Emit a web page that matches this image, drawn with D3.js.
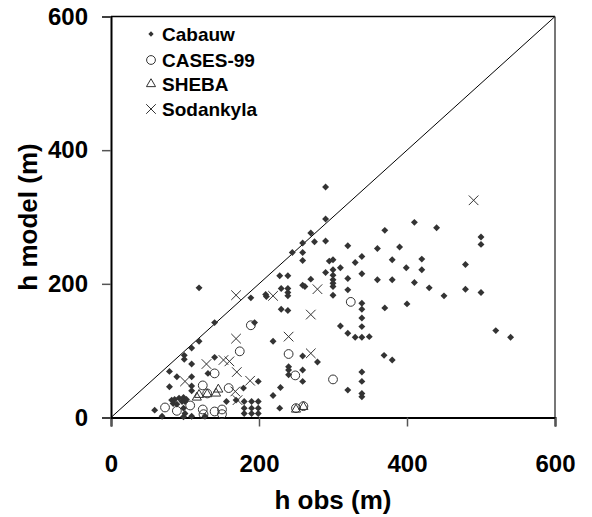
<!DOCTYPE html>
<html>
<head>
<meta charset="utf-8">
<script src="https://cdn.jsdelivr.net/npm/d3@7"></script>
<style>
  body{margin:0;background:#fff;}
  text{font-family:"Liberation Sans",Arial,sans-serif;font-weight:bold;fill:#000;}
</style>
</head>
<body>
<div id="chart"></div>
<script>

// values: [h obs, h model]
var cabauw = [
  [290,345],[290,297],[270,276],[259,261],[245,247],[275,263],[290,264],[259,247],[259,235],
  [320,257],[370,280],[410,292],[440,284],[360,253],[390,255],[339,241],[295,234],[300,236],
  [330,232],[380,236],[420,237],[399,224],[420,221],[479,229],[500,270],[500,259],[310,224],
  [290,217],[300,221],[300,213],[300,206],[300,201],[300,196],[339,215],[270,207],[320,208],
  [360,206],[380,206],[259,198],[262,196],[410,202],[430,194],[450,182],[479,192],[500,187],
  [320,191],[300,183],[370,164],[400,170],[339,171],[339,162],[339,149],[339,136],[339,120],
  [330,120],[349,121],[320,126],[310,137],[520,130],[540,120],
  [228,212],[239,212],[230,193],[239,193],[239,187],[239,182],[119,194],[189,179],[209,184],
  [210,181],[230,162],[239,160],[140,142],[194,142],[119,114],[109,104],[219,114],[99,93],
  [99,87],[109,80],[140,90],[240,76],[240,71],[240,64],[79,69],[89,61],[109,61],[79,46],
  [259,92],[279,83],[259,71],[259,54],[229,45],[320,41],[339,68],[339,54],[339,36],[339,31],
  [369,93],[380,86],[228,14],[219,33],
  [131,66],[109,47],[109,40],[82,26],[86,27],[92,29],[84,21],[89,20],[96,24],[98,30],[100,24],
  [102,27],[98,14],[100,6],[98,1],[59,11],[69,2],[109,2],[127,2],[169,26],[180,24],[180,14],
  [180,6],[190,24],[190,14],[190,6],[199,24],[199,14],[199,6],[156,24],[179,44],[199,54]
];
var cases99 = [
  [324,173],[189,138],[174,99],[240,95],[140,66],[249,63],[300,57],[124,48],[159,44],[130,36],
  [73,15],[89,10],[107,18],[124,12],[125,5],[140,9],[150,12],[150,5],[250,14],[260,17]
];
var sheba = [[116,30],[130,35],[142,36],[145,42],[250,12],[260,16],[119,34]];
var sodankyla = [
  [490,325],[169,183],[219,182],[169,118],[240,121],[279,192],[270,154],[270,96],[129,80],
  [152,86],[160,84],[170,68],[100,54],[188,55],[168,39],[171,26]
];

var ticks = [0,200,400,600];
var seriesNames = ['Cabauw','CASES-99','SHEBA','Sodankyla'];

var W = 592, H = 517;
var padL = 111, padT = 16.5, pw = 444, ph = 401;

var svg = d3.select('#chart').append('svg').attr('width',W).attr('height',H);

var x = d3.scaleLinear().domain([0,600]).range([padL,padL+pw]);
var y = d3.scaleLinear().domain([0,600]).range([padT+ph,padT]);

// frame: top and right borders
svg.append('line').attr('x1',padL).attr('x2',padL+pw).attr('y1',padT).attr('y2',padT)
  .attr('stroke','#000').attr('stroke-width',1.5);
svg.append('line').attr('x1',padL+pw).attr('x2',padL+pw).attr('y1',padT).attr('y2',padT+ph)
  .attr('stroke','#777').attr('stroke-width',2);

// 1:1 line
svg.append('line').attr('x1',x(0)).attr('y1',y(0)).attr('x2',x(600)).attr('y2',y(600))
  .attr('stroke','#000').attr('stroke-width',1);

var xAxis = svg.append('g').attr('transform','translate(0,'+(padT+ph)+')')
  .call(d3.axisBottom(x).tickValues(ticks).tickSize(9).tickPadding(28));
var yAxis = svg.append('g').attr('transform','translate('+padL+',0)')
  .call(d3.axisLeft(y).tickValues(ticks).tickSize(9).tickPadding(14));

[xAxis,yAxis].forEach(function(a){
  a.select('.domain').attr('stroke','#000').attr('stroke-width',2);
  a.selectAll('.tick line').attr('stroke','#555').attr('stroke-width',1.5);
  a.selectAll('.tick text').style('font-size','24px').style('font-family','"Liberation Sans",Arial,sans-serif')
    .style('font-weight','bold').attr('fill','#000');
});

svg.append('text').attr('x',padL+pw/2).attr('y',509).attr('text-anchor','middle')
  .style('font-size','26px').text('h obs (m)');
svg.append('text').attr('transform','translate(37,'+(padT+ph/2)+') rotate(-90)')
  .attr('text-anchor','middle').style('font-size','26px').text('h model (m)');

// marker drawing
var ink = '#333';
function diamond(g,d,s){
  g.append('path').attr('d',d3.symbol().type(d3.symbolSquare).size(s||24)())
    .attr('transform','translate('+d[0]+','+d[1]+') rotate(45)').attr('fill',ink);
}
function circle(g,d){
  g.append('circle').attr('cx',d[0]).attr('cy',d[1]).attr('r',4.4)
    .attr('fill','none').attr('stroke',ink).attr('stroke-width',1);
}
function triangle(g,d){
  g.append('path').attr('d',d3.symbol().type(d3.symbolTriangle).size(36)())
    .attr('transform','translate('+d[0]+','+d[1]+')')
    .attr('fill','none').attr('stroke',ink).attr('stroke-width',1);
}
function cross(g,d){
  var r = 4.8;
  g.append('path').attr('d','M'+(-r)+','+(-r)+'L'+r+','+r+'M'+(-r)+','+r+'L'+r+','+(-r))
    .attr('transform','translate('+d[0]+','+d[1]+')')
    .attr('fill','none').attr('stroke',ink).attr('stroke-width',1);
}
var drawers = [diamond,circle,triangle,cross];
var allSeries = [cabauw,cases99,sheba,sodankyla];

var pts = svg.append('g');
allSeries.forEach(function(s,i){
  s.forEach(function(p){
    drawers[i](pts,[x(p[0]),y(p[1])]);
  });
});

// legend
var lg = svg.append('g');
var rowY = [34,60,84,109];
seriesNames.forEach(function(n,i){
  if(i===0) diamond(lg,[151,rowY[i]],14);
  else drawers[i](lg,[151,rowY[i]]);
  lg.append('text').attr('x',162).attr('y',rowY[i]).attr('dy','0.35em')
    .style('font-size','19px').text(n);
});

</script>
</body>
</html>
